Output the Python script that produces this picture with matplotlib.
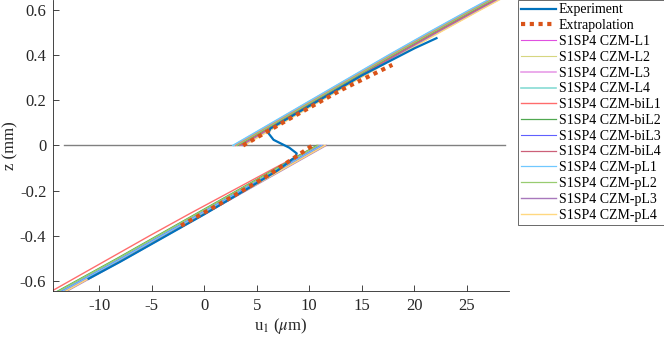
import matplotlib
matplotlib.use("Agg")
import matplotlib.pyplot as plt
import numpy as np

plt.rcParams.update({
    "font.family": "Liberation Serif",
    "mathtext.fontset": "stix",
    "axes.unicode_minus": False,
    "font.size": 11,
})

# ---------- data ----------
EXP_U = [-11.0, -8.0, -4.0, 0.0, 4.0, 7.0, 8.7, 8.8, 8.1, 6.6, 6.1, 6.3,
         10.0, 15.0, 20.0, 22.1]
EXP_Z = [-0.59, -0.515, -0.41, -0.305, -0.195, -0.11, -0.05, -0.035, -0.01,
         0.025, 0.055, 0.075, 0.175, 0.31, 0.43, 0.475]

EXTRA_LO_U = [-2.2, 2.0, 6.0, 10.3]
EXTRA_LO_Z = [-0.355, -0.245, -0.135, 0.0]
EXTRA_UP_U = [3.7, 8.0, 13.0, 17.9]
EXTRA_UP_Z = [0.0, 0.115, 0.245, 0.357]

MODEL_UP_Z = [0.0, 0.1, 0.2, 0.3, 0.4, 0.5, 0.6, 0.7]
MODEL_LO_Z = [0.0, -0.1, -0.2, -0.3, -0.4, -0.5, -0.6, -0.7]

MODEL_NAMES = ["S1SP4 CZM-L1", "S1SP4 CZM-L2", "S1SP4 CZM-L3", "S1SP4 CZM-L4",
               "S1SP4 CZM-biL1", "S1SP4 CZM-biL2", "S1SP4 CZM-biL3", "S1SP4 CZM-biL4",
               "S1SP4 CZM-pL1", "S1SP4 CZM-pL2", "S1SP4 CZM-pL3", "S1SP4 CZM-pL4"]

MODEL_UP_U = [
    [3.3, 7.0, 10.7, 14.4, 18.1, 21.9, 25.8, 29.8],
    [3.5, 7.2, 10.9, 14.6, 18.3, 22.1, 26.0, 30.0],
    [2.9, 6.6, 10.3, 14.0, 17.7, 21.5, 25.4, 29.4],
    [2.8, 6.5, 10.2, 13.9, 17.6, 21.4, 25.3, 29.3],
    [3.0, 6.7, 10.4, 14.1, 17.8, 21.6, 25.5, 29.5],
    [3.2, 6.9, 10.6, 14.3, 18.0, 21.8, 25.7, 29.7],
    [3.6, 7.3, 11.0, 14.7, 18.4, 22.2, 26.1, 30.1],
    [3.4, 7.1, 10.8, 14.5, 18.2, 22.0, 25.9, 29.9],
    [2.7, 6.4, 10.1, 13.8, 17.5, 21.3, 25.2, 29.2],
    [3.1, 6.8, 10.5, 14.2, 17.9, 21.7, 25.6, 29.6],
    [3.7, 7.4, 11.1, 14.8, 18.5, 22.3, 26.2, 30.2],
    [3.8, 7.5, 11.2, 14.9, 18.6, 22.4, 26.3, 30.3],
]
MODEL_LO_U = [
    [11.2, 7.4, 3.6, -0.2, -4.0, -7.8, -11.7, -15.6],
    [11.4, 7.6, 3.8, 0.0, -3.8, -7.6, -11.5, -15.4],
    [11.0, 7.2, 3.4, -0.4, -4.2, -8.0, -11.9, -15.8],
    [10.9, 7.1, 3.3, -0.5, -4.3, -8.1, -12.0, -15.9],
    [10.8, 6.7, 2.7, -1.3, -5.2, -9.0, -12.8, -16.6],
    [10.7, 6.9, 3.1, -0.7, -4.5, -8.3, -12.2, -16.1],
    [11.1, 7.3, 3.5, -0.3, -4.1, -7.9, -11.8, -15.7],
    [11.3, 7.5, 3.7, -0.1, -3.9, -7.7, -11.6, -15.5],
    [11.2, 7.4, 3.6, -0.2, -4.0, -7.8, -11.7, -15.6],
    [10.8, 7.0, 3.2, -0.6, -4.4, -8.2, -12.1, -16.0],
    [11.6, 7.8, 4.0, 0.2, -3.6, -7.4, -11.3, -15.2],
    [11.5, 7.7, 3.9, 0.1, -3.7, -7.5, -11.4, -15.3],
]

ZERO_LINE_U = [-13.3, 28.6]
ZERO_LINE_Z = [0.0, 0.0]

# ---------- styles ----------
MODEL_COLORS = ["#e050e0", "#d6d680", "#e694e6", "#88dcd4",
                "#ff6c6c", "#50a850", "#6060ff", "#cc6078",
                "#70c8ff", "#98cc70", "#a878bc", "#ffd880"]
MODEL_LW = [0.8, 0.8, 1.1, 1.2, 1.0, 0.9, 0.8, 0.9, 0.9, 0.9, 1.0, 1.0]

fig = plt.figure(figsize=(6.64, 3.41), dpi=100)
ax = fig.add_axes([0.0803, 0.1475, 0.6863, 0.8525])

ax.plot(ZERO_LINE_U, ZERO_LINE_Z, color="#808080", lw=1.0, zorder=1)

exp_line, = ax.plot(EXP_U, EXP_Z, color="#0072BD", lw=1.6, zorder=3,
                    label="Experiment")
extra_line, = ax.plot(EXTRA_LO_U, EXTRA_LO_Z, color="#D95319", lw=3.0,
                      dashes=(1, 1.1), zorder=4, label="Extrapolation")
ax.plot(EXTRA_UP_U, EXTRA_UP_Z, color="#D95319", lw=3.0, dashes=(1, 1.1),
        zorder=4)

handles = [exp_line, extra_line]
for name, uu, ul, c, lw in zip(MODEL_NAMES, MODEL_UP_U, MODEL_LO_U,
                               MODEL_COLORS, MODEL_LW):
    u = np.concatenate([uu, [np.nan], ul])
    z = np.concatenate([MODEL_UP_Z, [np.nan], MODEL_LO_Z])
    h, = ax.plot(u, z, color=c, lw=lw, zorder=2, label=name)
    handles.append(h)

ax.set_xlim(-14.35, 29.0)
ax.set_ylim(-0.643, 0.644)
ax.set_xticks([-10, -5, 0, 5, 10, 15, 20, 25])
ax.set_yticks([-0.6, -0.4, -0.2, 0, 0.2, 0.4, 0.6])
ax.set_yticklabels(["-0.6", "-0.4", "-0.2", "0", "0.2", "0.4", "0.6"])
ax.tick_params(direction="in", length=4, width=0.6, colors="#262626",
               labelsize=12, labelcolor="#262626", pad=5)
for side in ("top", "right"):
    ax.spines[side].set_visible(False)
for side in ("left", "bottom"):
    ax.spines[side].set_linewidth(0.6)
    ax.spines[side].set_color("#262626")

ax.set_xlabel(r"u$_1$ ($\mu$m)", fontsize=12, color="#262626", labelpad=2)
ax.set_ylabel("z (mm)", fontsize=12, color="#262626", labelpad=1)

leg = fig.legend(handles=handles, loc="upper left", bbox_to_anchor=(0.780, 1.0),
                 borderaxespad=0, fontsize=10, frameon=True, fancybox=False,
                 handlelength=2.5, handletextpad=0.2, labelspacing=0.2,
                 borderpad=0.25)
leg.get_frame().set_edgecolor("#262626")
leg.get_frame().set_linewidth(0.6)

fig.savefig("out.png", dpi=100)
